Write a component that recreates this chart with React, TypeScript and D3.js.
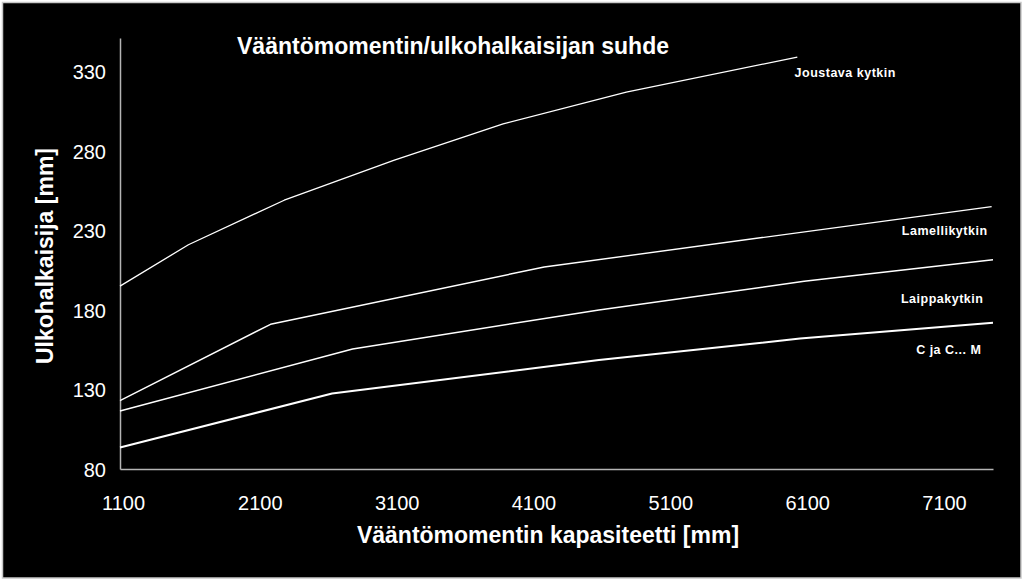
import { useRef, useEffect } from 'react';
import * as d3 from 'd3';

const VW = 1024, VH = 580;
const M = { top: 38, right: 31, bottom: 111, left: 120 };
const IW = VW - M.left - M.right;
const IH = VH - M.top - M.bottom;

// Axis ranges and ticks
const X_DOMAIN = [1100, 7480];
const Y_DOMAIN = [80, 351];
const X_TICKS = [1100, 2100, 3100, 4100, 5100, 6100, 7100];
const Y_TICKS = [80, 130, 180, 230, 280, 330];

// Series
const SERIES_NAMES = ['Joustava kytkin', 'Lamellikytkin', 'Laippakytkin', 'C ja C... M'];
const JOUSTAVA_X = [1100, 1600, 2300, 3100, 3900, 4800, 6050];
const JOUSTAVA_Y = [195, 221, 249, 274, 297, 317, 339];
const LAMELLI_X = [1100, 2200, 4200, 7470];
const LAMELLI_Y = [123, 171, 207, 245];
const LAIPPA_X = [1100, 2800, 4600, 6100, 7480];
const LAIPPA_Y = [116.5, 155.5, 180, 198, 211.5];
const CJACM_X = [1100, 2650, 4600, 6070, 7480];
const CJACM_Y = [93.5, 127.5, 148.5, 162, 172];

// Label anchors in data units, and the side they hang from
const LABEL_X = [6030, 7440, 7410, 7395];
const LABEL_Y = [326.5, 227, 184.5, 152.5];
const LABEL_ANCHOR = ['start', 'end', 'end', 'end'];

const TITLE = 'Vääntömomentin/ulkohalkaisijan suhde';
const X_TITLE = 'Vääntömomentin kapasiteetti [mm]';
const Y_TITLE = 'Ulkohalkaisija [mm]';

const FONT = '"Liberation Sans", Arial, Helvetica, sans-serif';

export default function App() {
  const svgRef = useRef<SVGSVGElement>(null);

  useEffect(() => {
    const svg = d3.select(svgRef.current);
    svg.selectAll('*').remove();

    const x = d3.scaleLinear().domain(X_DOMAIN).range([M.left, M.left + IW]);
    const y = d3.scaleLinear().domain(Y_DOMAIN).range([M.top + IH, M.top]);

    // Black panel with a thin light frame
    svg.append('rect').attr('width', VW).attr('height', VH).attr('fill', '#fff');
    svg.append('rect').attr('x', 2.5).attr('y', 2.5).attr('width', VW - 5.5).attr('height', VH - 4.5)
      .attr('fill', '#000').attr('stroke', '#c8c8c8').attr('stroke-width', 1.5);

    // Axes: plain lines, no tick marks
    const xAxis = svg.append('g').attr('transform', `translate(0,${M.top + IH})`)
      .call(d3.axisBottom(x).tickValues(X_TICKS).tickSize(0).tickSizeOuter(0).tickFormat(d3.format('d')));
    xAxis.select('.domain').attr('stroke', '#b4b4b4').attr('stroke-width', 1.5);
    xAxis.selectAll('text').attr('fill', '#fff').attr('font-size', 20).attr('font-family', FONT)
      .attr('dy', 0).attr('y', 41).attr('dx', 3);

    const yAxis = svg.append('g').attr('transform', `translate(${M.left},0)`)
      .call(d3.axisLeft(y).tickValues(Y_TICKS).tickSize(0).tickSizeOuter(0).tickFormat(d3.format('d')));
    yAxis.select('.domain').attr('stroke', '#b4b4b4').attr('stroke-width', 1.5);
    yAxis.selectAll('text').attr('fill', '#fff').attr('font-size', 20).attr('font-family', FONT)
      .attr('x', -14).attr('dy', '0.36em');

    // Lines
    const seriesX = [JOUSTAVA_X, LAMELLI_X, LAIPPA_X, CJACM_X];
    const seriesY = [JOUSTAVA_Y, LAMELLI_Y, LAIPPA_Y, CJACM_Y];
    const widths = [1.3, 1.4, 1.5, 2];
    const line = d3.line<[number, number]>().x(d => x(d[0])).y(d => y(d[1]));
    seriesX.forEach((xs, k) => {
      const pts = xs.map((v, i) => [v, seriesY[k][i]] as [number, number]);
      svg.append('path').attr('d', line(pts) ?? '').attr('fill', 'none')
        .attr('stroke', '#fff').attr('stroke-width', widths[k]).attr('stroke-linejoin', 'round');
    });

    // Series labels
    SERIES_NAMES.forEach((name, k) => {
      svg.append('text').attr('x', x(LABEL_X[k])).attr('y', y(LABEL_Y[k]))
        .attr('text-anchor', LABEL_ANCHOR[k]).attr('fill', '#fff').attr('font-family', FONT)
        .attr('font-size', 12.5).attr('font-weight', 700).attr('letter-spacing', 0.5).text(name);
    });

    // Titles
    svg.append('text').attr('x', 237).attr('y', 54).attr('fill', '#fff').attr('font-family', FONT)
      .attr('font-size', 23).attr('font-weight', 700).text(TITLE);
    svg.append('text').attr('x', 548).attr('y', 543).attr('text-anchor', 'middle').attr('fill', '#fff')
      .attr('font-family', FONT).attr('font-size', 23).attr('font-weight', 700).text(X_TITLE);
    svg.append('text').attr('transform', 'translate(53,256) rotate(-90)').attr('text-anchor', 'middle')
      .attr('fill', '#fff').attr('font-family', FONT).attr('font-size', 23).attr('font-weight', 700).text(Y_TITLE);
  }, []);

  return (
    <svg
      ref={svgRef}
      width={VW}
      height={VH}
      viewBox={`0 0 ${VW} ${VH}`}
      style={{ position: 'absolute', left: 0, top: 0, display: 'block' }}
      role="img"
      aria-label="Vääntömomentin ja ulkohalkaisijan suhde neljälle kytkintyypille"
    />
  );
}
